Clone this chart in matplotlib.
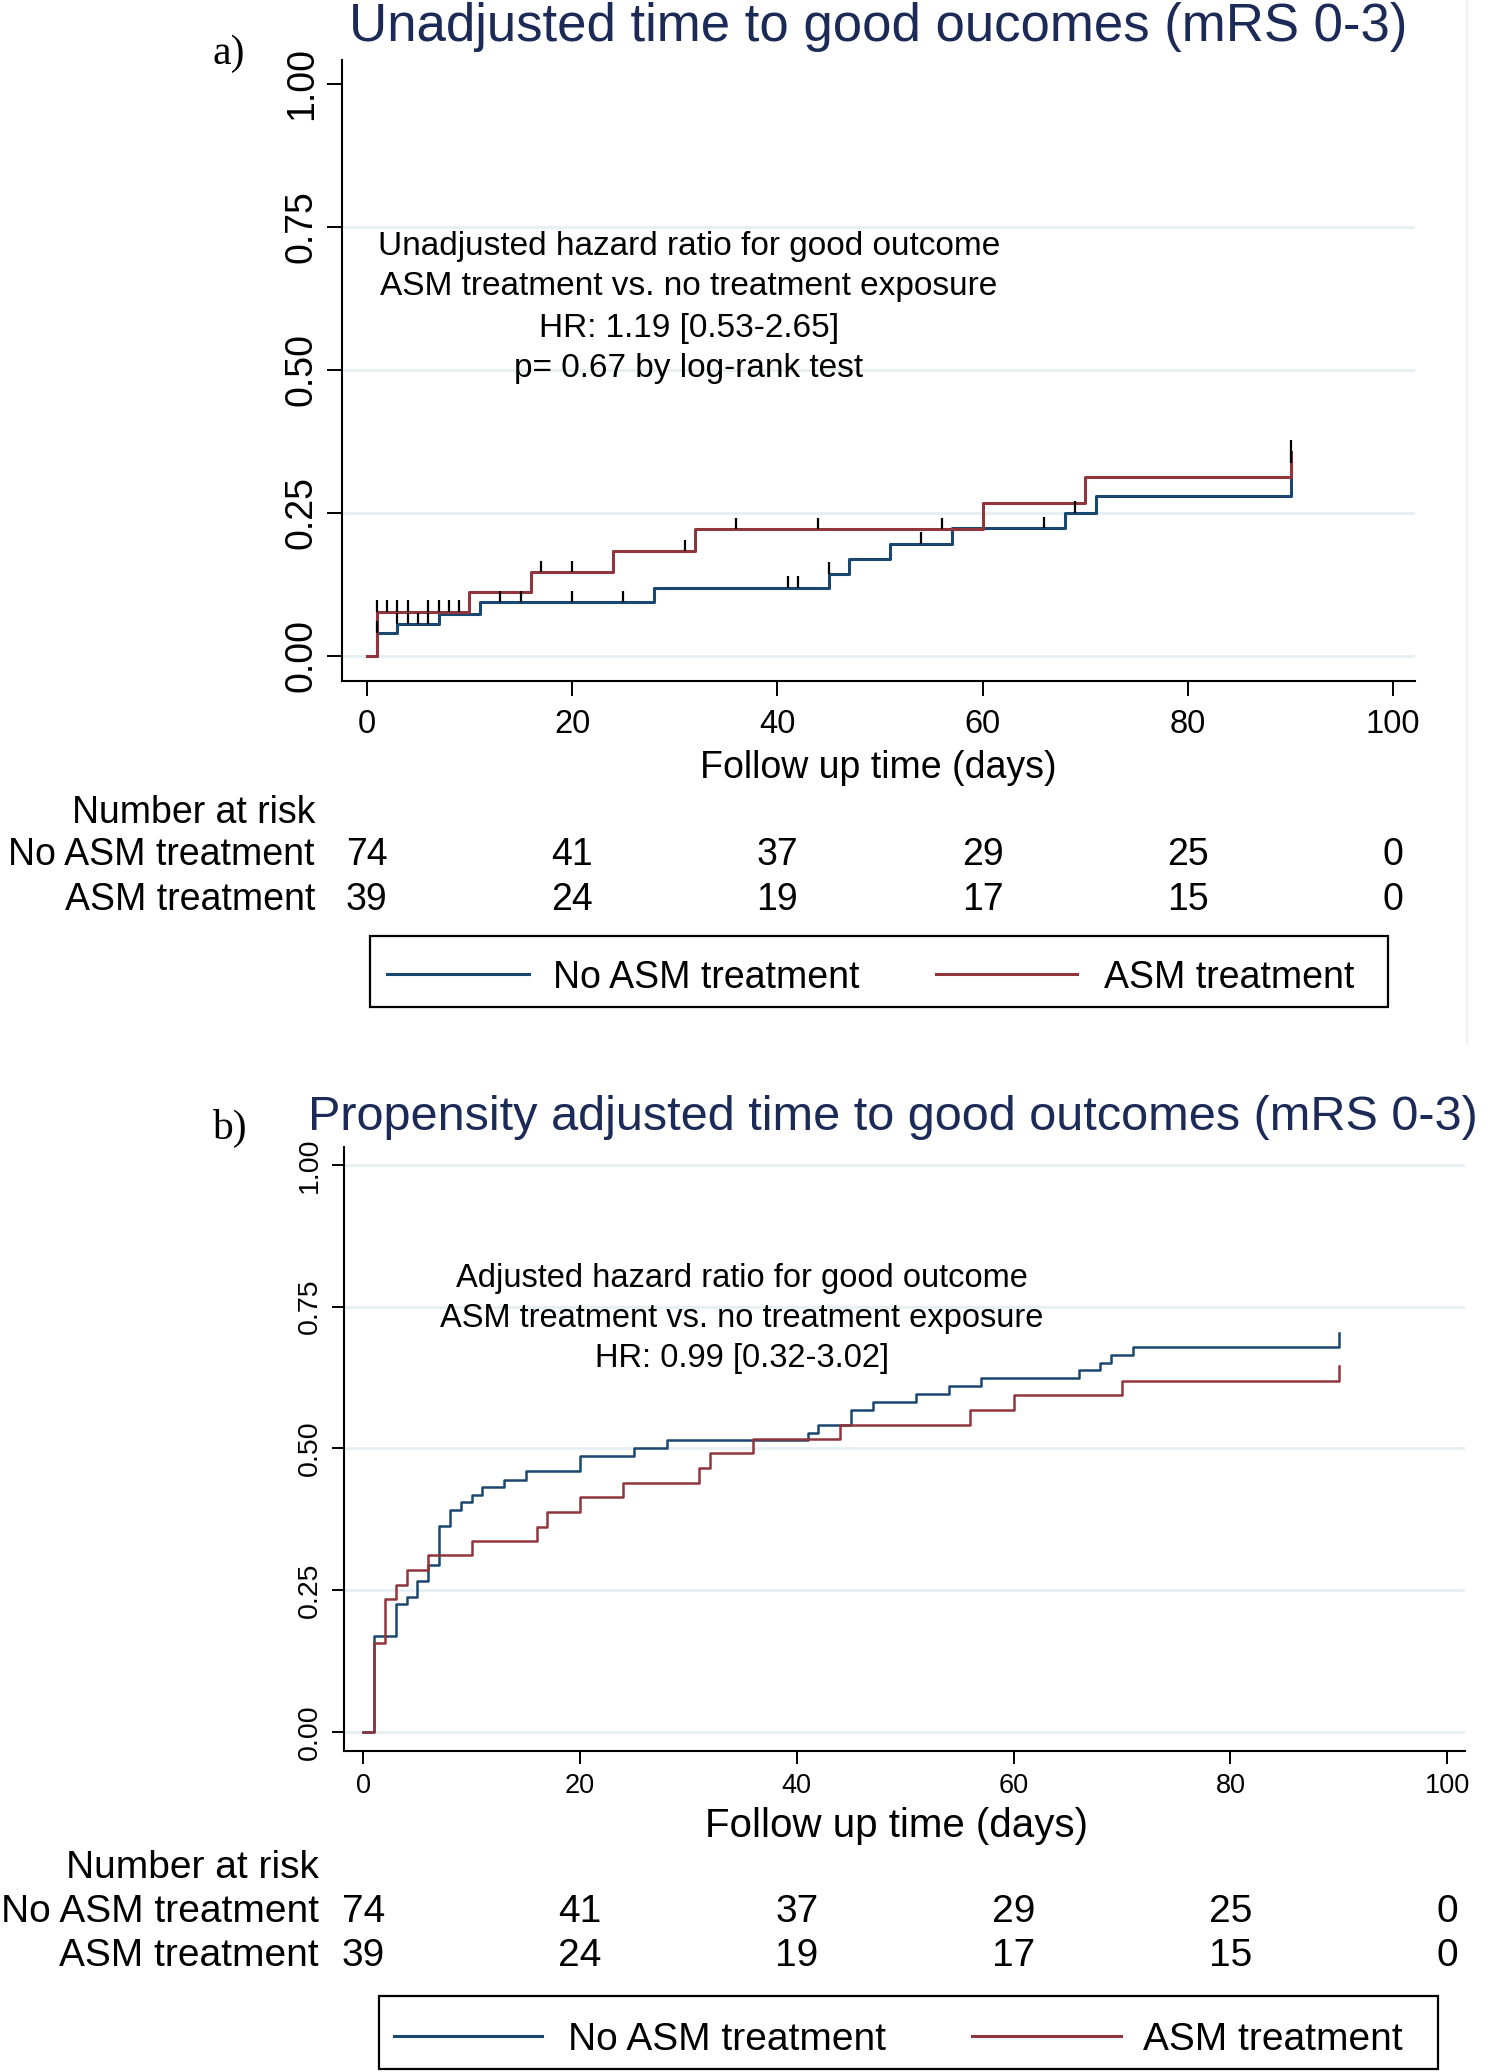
import numpy as np
import matplotlib
matplotlib.use('Agg')
import matplotlib.pyplot as plt
from matplotlib.lines import Line2D
from matplotlib.patches import Rectangle
import matplotlib.transforms as mtransforms

W, H = 1499, 2072

# ---- panel a: unadjusted KM failure curves (time in days, cumulative proportion) ----
a_no_t = [0, 1, 3, 7, 11, 28, 45, 47, 51, 57, 68, 71, 90]
a_no_y = [0, 0.041, 0.056, 0.073, 0.094, 0.119, 0.144, 0.169, 0.196, 0.223, 0.250, 0.279, 0.337]
a_asm_t = [0, 1, 10, 16, 24, 32, 60, 70, 90]
a_asm_y = [0, 0.077, 0.111, 0.146, 0.183, 0.222, 0.268, 0.313, 0.357]
# censoring times (drawn as black ticks)
a_no_cens = [1, 3, 4, 5, 6, 13, 15, 20, 25, 41, 42, 45, 54, 66, 69, 90]
a_asm_cens = [1, 2, 3, 4, 6, 7, 8, 9, 17, 20, 31, 36, 44, 56, 90]

# ---- panel b: propensity adjusted curves ----
b_no_t = [0, 1, 3, 4, 5, 6, 7, 8, 9, 10, 11, 13, 15, 20, 25, 28, 41, 42, 45, 47, 51, 54, 57, 66, 68, 69, 71, 90]
b_no_y = [0, 0.169, 0.225, 0.238, 0.266, 0.294, 0.363, 0.391, 0.405, 0.418, 0.432, 0.445, 0.460, 0.487,
          0.501, 0.514, 0.527, 0.541, 0.568, 0.582, 0.596, 0.610, 0.624, 0.638, 0.651, 0.664, 0.678, 0.703]
b_asm_t = [0, 1, 2, 3, 4, 6, 10, 16, 17, 20, 24, 31, 32, 36, 44, 56, 60, 70, 90]
b_asm_y = [0, 0.156, 0.234, 0.259, 0.285, 0.311, 0.337, 0.362, 0.388, 0.414, 0.439, 0.465, 0.491,
           0.517, 0.542, 0.568, 0.594, 0.619, 0.645]

# number at risk table (same for both panels)
risk_x = [0, 20, 40, 60, 80, 100]
risk_no = [74, 41, 37, 29, 25, 0]
risk_asm = [39, 24, 19, 17, 15, 0]

xticks = [0, 20, 40, 60, 80, 100]
yticks = [0, 0.25, 0.5, 0.75, 1.0]
ytick_labels = ['0.00', '0.25', '0.50', '0.75', '1.00']

BLUE = '#1a476f'
RED = '#90353b'
NAVY = '#1b2a56'
GRID = '#e6eff2'

plt.rcParams['font.family'] = ['Liberation Sans', 'DejaVu Sans']

fig = plt.figure(figsize=(W / 100, H / 100), dpi=100)

DY = 4  # small shift so centred text lands where the reference has it


def fx(px):
    return px / W


def fy(py):
    return 1 - py / H


def ft(py):
    return fy(py + DY)


def make_axes(left, top, right, bottom, x0, xs, y0, ys):
    ax = fig.add_axes([fx(left), fy(bottom), (right - left) / W, (bottom - top) / H])
    ax.set_xlim(-(x0 - left) / xs, (right - x0) / xs)
    ax.set_ylim(-(bottom - y0) / ys, (y0 - top) / ys)
    return ax


def level_at(ts, ys, t):
    i = np.searchsorted(ts, t, side='right') - 1
    return ys[i]


def style_axes(ax, fsx, fsy, pad_x, pad_y, ticklen, grid_levels):
    for g in grid_levels:
        ax.axhline(g, color=GRID, lw=2, zorder=0)
    for s in ['top', 'right']:
        ax.spines[s].set_visible(False)
    for s in ['left', 'bottom']:
        ax.spines[s].set_linewidth(1.5)
    ax.set_xticks(xticks)
    ax.set_yticks(yticks)
    ax.set_yticklabels(ytick_labels, rotation=90, va='center')
    ax.tick_params(axis='x', labelsize=fsx, length=ticklen, width=1.4, pad=pad_x)
    ax.tick_params(axis='y', labelsize=fsy, length=ticklen, width=1.4, pad=pad_y)
    ax.patch.set_alpha(0)


def risk_table(ax, x_right, y_head, y1, y2, fs):
    fig.text(fx(x_right), ft(y_head), 'Number at risk', ha='right', va='center', fontsize=fs)
    fig.text(fx(x_right), ft(y1), 'No ASM treatment', ha='right', va='center', fontsize=fs)
    fig.text(fx(x_right), ft(y2), 'ASM treatment', ha='right', va='center', fontsize=fs)
    trans = mtransforms.blended_transform_factory(ax.transData, fig.transFigure)
    for x, n1, n2 in zip(risk_x, risk_no, risk_asm):
        ax.text(x, ft(y1), str(n1), transform=trans, ha='center', va='center', fontsize=fs, clip_on=False)
        ax.text(x, ft(y2), str(n2), transform=trans, ha='center', va='center', fontsize=fs, clip_on=False)


def legend_box(l, t, r, b, blue_x, red_x, yc, fs):
    fig.add_artist(Rectangle((fx(l), fy(b)), (r - l) / W, (b - t) / H, transform=fig.transFigure,
                             fill=False, ec='black', lw=1.6))
    fig.add_artist(Line2D([fx(blue_x[0]), fx(blue_x[1])], [fy(yc), fy(yc)], color=BLUE, lw=2.2))
    fig.text(fx(blue_x[2]), ft(yc), 'No ASM treatment', ha='left', va='center', fontsize=fs)
    fig.add_artist(Line2D([fx(red_x[0]), fx(red_x[1])], [fy(yc), fy(yc)], color=RED, lw=2.2))
    fig.text(fx(red_x[2]), ft(yc), 'ASM treatment', ha='left', va='center', fontsize=fs)


# ================= panel a =================
axa = make_axes(342, 60, 1415, 681, 366.7, 10.265, 656, 572.3)
style_axes(axa, 23.5, 27, 9, 5, 11, [0, 0.25, 0.5, 0.75])
axa.step(a_no_t, a_no_y, where='post', color=BLUE, lw=2.2)
axa.step(a_asm_t, a_asm_y, where='post', color=RED, lw=2.2)
for t in a_no_cens:
    lv = level_at(a_no_t, a_no_y, t)
    axa.vlines(t, lv, lv + 0.02, color='black', lw=1.6)
for t in a_asm_cens:
    lv = level_at(a_asm_t, a_asm_y, t)
    axa.vlines(t, lv, lv + 0.02, color='black', lw=1.6)

fig.text(fx(878), ft(23), 'Unadjusted time to good oucomes (mRS 0-3)', ha='center', va='center',
         fontsize=38, color=NAVY)
fig.text(fx(229), ft(50), 'a)', ha='center', va='center', fontsize=30, family='Liberation Serif')
for yy, s in zip([243, 283, 324, 365], ['Unadjusted hazard ratio for good outcome',
                                       'ASM treatment vs. no treatment exposure',
                                       'HR: 1.19 [0.53-2.65]',
                                       'p= 0.67 by log-rank test']):
    fig.text(fx(689), ft(yy), s, ha='center', va='center', fontsize=24)
fig.text(fx(878), ft(764), 'Follow up time (days)', ha='center', va='center', fontsize=27)
risk_table(axa, 315, 809, 851, 896, 27)
legend_box(370, 936, 1388, 1007, (387, 529, 553), (936, 1077, 1104), 974, 27)

# faint outer border line of the first graph
fig.add_artist(Line2D([fx(1467), fx(1467)], [fy(0), fy(1044)], color='#f0f0f0', lw=1.5))

# ================= panel b =================
axb = make_axes(344, 1147, 1465, 1751, 363.2, 10.84, 1731.7, 566.7)
style_axes(axb, 19.5, 20.5, 7, 6, 9, [0, 0.25, 0.5, 0.75, 1.0])
axb.step(b_no_t, b_no_y, where='post', color=BLUE, lw=1.8)
axb.step(b_asm_t, b_asm_y, where='post', color=RED, lw=1.8)

fig.text(fx(308), ft(1113), 'Propensity adjusted time to good outcomes (mRS 0-3)', ha='left', va='center',
         fontsize=35, color=NAVY)
fig.text(fx(229), ft(1124), 'b)', ha='center', va='center', fontsize=30, family='Liberation Serif')
for yy, s in zip([1274, 1314, 1354], ['Adjusted hazard ratio for good outcome',
                                     'ASM treatment vs. no treatment exposure',
                                     'HR: 0.99 [0.32-3.02]']):
    fig.text(fx(741.6), ft(yy), s, ha='center', va='center', fontsize=23.5)
fig.text(fx(896), ft(1822), 'Follow up time (days)', ha='center', va='center', fontsize=29)
risk_table(axb, 319, 1864, 1908, 1952, 28)
legend_box(379, 1996, 1438, 2069, (394, 542, 568), (972, 1121, 1143), 2036, 28)

fig.savefig('out.png', dpi=100)
